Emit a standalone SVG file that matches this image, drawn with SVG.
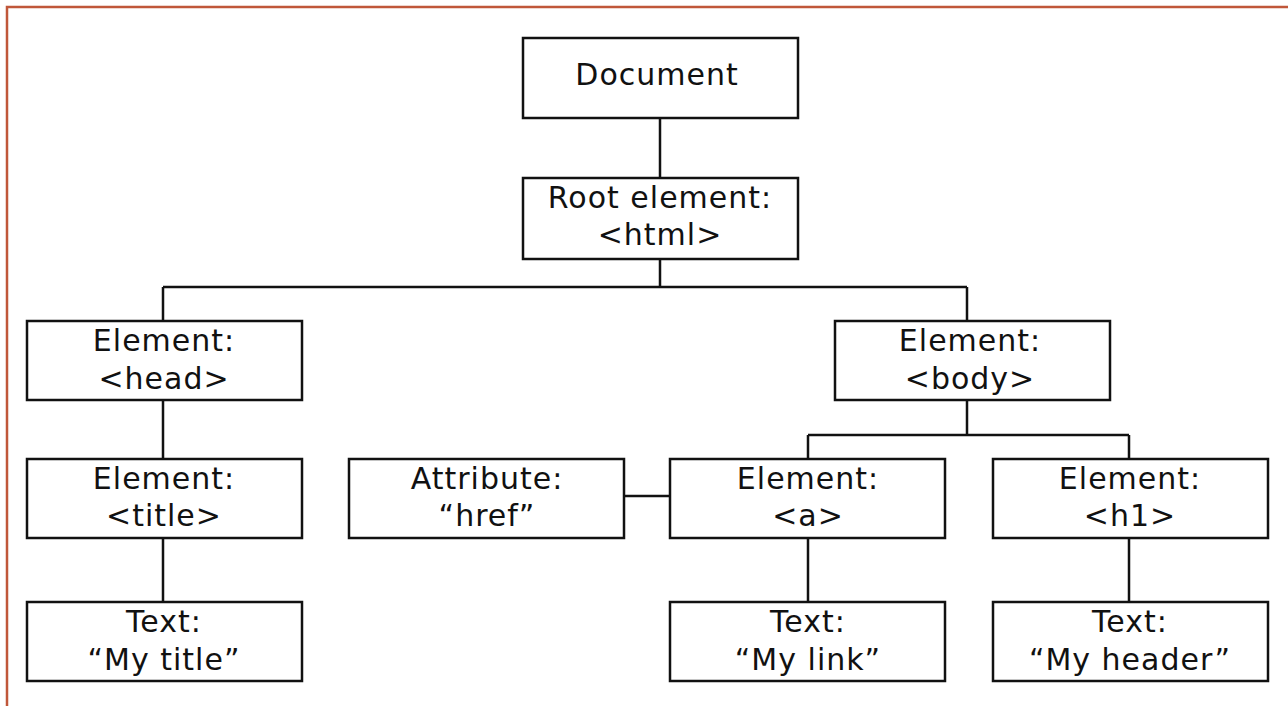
<svg xmlns="http://www.w3.org/2000/svg" width="1288" height="706" viewBox="0 0 1288 706">
<style>
.box{fill:#fff;stroke:#111;stroke-width:2.5}
.lbl{font-family:"DejaVu Sans",Verdana,sans-serif;font-size:30px;letter-spacing:1px;fill:#111;text-anchor:middle}
.c{fill:none;stroke:#111;stroke-width:2.5}
</style>
<rect x="0" y="0" width="1288" height="706" fill="#fff"/>
<path d="M7 706 V7 H1288" fill="none" stroke="#c0573a" stroke-width="2.5"/>
<g id="connectors">
<path class="c" d="M660 118 V178"/>
<path class="c" d="M660 259 V287 M163 287 H967 M163 287 V321 M967 287 V321"/>
<path class="c" d="M163 400 V459 M163 538 V602"/>
<path class="c" d="M967 400 V435 M808 435 H1129 M808 435 V459 M1129 435 V459"/>
<path class="c" d="M624 496 H670"/>
<path class="c" d="M808 538 V602 M1129 538 V602"/>
</g>
<g id="document"><rect class="box" x="523" y="38" width="275" height="80"/><text class="lbl" x="657" y="85">Document</text></g>
<g id="root"><rect class="box" x="523" y="178" width="275" height="81"/><text class="lbl" x="660" y="208">Root element:</text><text class="lbl" x="660" y="245">&lt;html&gt;</text></g>
<g id="head"><rect class="box" x="27" y="321" width="275" height="79"/><text class="lbl" x="164" y="351">Element:</text><text class="lbl" x="164" y="389">&lt;head&gt;</text></g>
<g id="body"><rect class="box" x="835" y="321" width="275" height="79"/><text class="lbl" x="970" y="351">Element:</text><text class="lbl" x="970" y="389">&lt;body&gt;</text></g>
<g id="title"><rect class="box" x="27" y="459" width="275" height="79"/><text class="lbl" x="164" y="489">Element:</text><text class="lbl" x="164" y="526">&lt;title&gt;</text></g>
<g id="attr"><rect class="box" x="349" y="459" width="275" height="79"/><text class="lbl" x="487" y="489">Attribute:</text><text class="lbl" x="487" y="526">“href”</text></g>
<g id="a"><rect class="box" x="670" y="459" width="275" height="79"/><text class="lbl" x="808" y="489">Element:</text><text class="lbl" x="808" y="526">&lt;a&gt;</text></g>
<g id="h1"><rect class="box" x="993" y="459" width="275" height="79"/><text class="lbl" x="1130" y="489">Element:</text><text class="lbl" x="1130" y="526">&lt;h1&gt;</text></g>
<g id="text-title"><rect class="box" x="27" y="602" width="275" height="79"/><text class="lbl" x="164" y="632">Text:</text><text class="lbl" x="164" y="670">“My title”</text></g>
<g id="text-link"><rect class="box" x="670" y="602" width="275" height="79"/><text class="lbl" x="808" y="632">Text:</text><text class="lbl" x="808" y="670">“My link”</text></g>
<g id="text-header"><rect class="box" x="993" y="602" width="275" height="79"/><text class="lbl" x="1130" y="632">Text:</text><text class="lbl" x="1130" y="670">“My header”</text></g>
</svg>
